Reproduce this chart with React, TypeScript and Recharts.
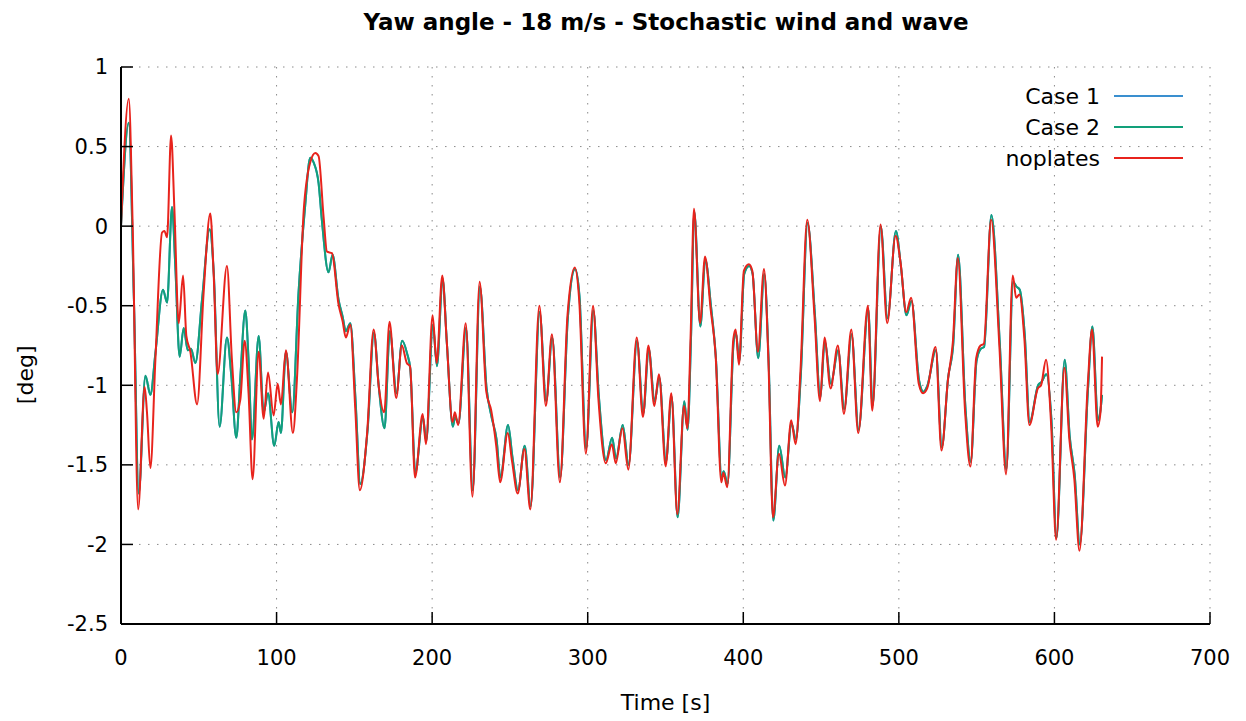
import { LineChart, Line, XAxis, YAxis, CartesianGrid } from 'recharts';

// time [s] and yaw [deg]
const noplatesTime = [
  0, 5.0, 7.5, 11.0, 15.2, 16.7, 18.9, 22.1, 26.4, 27.9, 29.6, 32.2, 34.3, 37.1, 39.9, 42.0, 44.6, 48.9,
  53.1, 57.4, 59.6, 62.1, 68.1, 71.3, 74.1, 76.7, 79.5, 82.0, 84.6, 88.5, 91.7, 94.5, 98.1, 100.7, 102.8,
  106.0, 110.5, 113.1, 117.4, 121.6, 124.9, 127.0, 130.2, 132.4, 135.6, 139.8, 142.5, 144.5, 147.4, 150.6,
  153.5, 158.2, 162.4, 165.6, 169.2, 172.6, 176.9, 180.5, 183.7, 185.8, 189.0, 193.9, 196.0, 200.3, 202.9,
  206.5, 209.3, 213.1, 214.6, 216.7, 221.6, 225.9, 230.5, 234.8, 238.0, 241.2, 243.7, 248.6, 251.4, 255.0,
  259.3, 263.1, 268.9, 273.1, 277.0, 282.1, 287.0, 291.7, 294.5, 298.8, 303.4, 306.9, 311.6, 315.5, 318.0,
  322.3, 326.1, 331.5, 335.5, 339.0, 342.8, 345.8, 350.1, 353.7, 357.6, 361.9, 364.0, 366.2, 368.3, 372.2,
  375.4, 379.0, 382.2, 385.9, 387.2, 389.7, 393.6, 395.1, 397.2, 400.4, 403.6, 405.8, 409.4, 413.3, 416.1,
  419.1, 422.9, 426.8, 430.8, 433.6, 436.8, 441.1, 445.8, 449.3, 452.2, 456.1, 460.8, 464.7, 469.4, 473.9,
  480.1, 482.9, 488.2, 492.5, 497.9, 501.1, 504.7, 507.9, 512.8, 515.6, 518.2, 523.6, 527.4, 531.5, 534.7,
  537.9, 542.6, 546.0, 549.7, 552.5, 554.6, 559.3, 564.7, 568.9, 573.2, 575.4, 577.5, 580.7, 583.9, 589.3,
  591.4, 594.6, 597.9, 601.1, 606.4, 609.6, 612.8, 616.1, 621.4, 624.2, 627.8, 629.6, 630.6,
];
const noplatesDeg = [
  0, 0.8, 0.0, -1.78, -1.01, -1.17, -1.52, -0.84, -0.04, -0.03, -0.07, 0.57, 0.11, -0.61, -0.31, -0.69, -0.79, -1.12,
  -0.42, 0.08, -0.31, -0.93, -0.25, -0.84, -1.17, -1.09, -0.72, -1.05, -1.59, -0.79, -1.21, -0.92, -1.19, -0.99, -1.12,
  -0.78, -1.3, -0.96, 0.09, 0.4, 0.46, 0.44, 0.06, -0.16, -0.17, -0.49, -0.6, -0.7, -0.62, -1.15,
  -1.66, -1.3, -0.65, -1.0, -1.17, -0.6, -1.08, -0.75, -0.86, -0.88, -1.58, -1.18, -1.37, -0.56, -0.86,
  -0.31, -0.71, -1.23, -1.17, -1.25, -0.61, -1.7, -0.35, -1.04, -1.16, -1.38, -1.61, -1.3, -1.48, -1.68,
  -1.4, -1.78, -0.5, -1.13, -0.68, -1.61, -0.56, -0.26, -0.46, -1.43, -0.5, -1.09, -1.49, -1.37, -1.49,
  -1.27, -1.53, -0.7, -1.2, -0.75, -1.13, -0.93, -1.51, -1.05, -1.81, -1.13, -1.27, -0.67, 0.11, -0.61,
  -0.19, -0.52, -0.81, -1.61, -1.55, -1.64, -0.71, -0.65, -0.87, -0.28, -0.24, -0.28, -0.79, -0.27, -0.83,
  -1.83, -1.43, -1.63, -1.22, -1.37, -0.9, 0.04, -0.57, -1.1, -0.7, -1.02, -0.75, -1.18, -0.65, -1.3,
  -0.5, -1.16, 0.01, -0.61, -0.06, -0.23, -0.54, -0.45, -0.99, -1.05, -1.02, -0.76, -1.41, -0.97, -0.73,
  -0.2, -1.17, -1.51, -0.83, -0.75, -0.74, 0.04, -0.77, -1.56, -0.31, -0.45, -0.43, -0.71, -1.25, -1.02,
  -1.0, -0.84, -1.25, -1.97, -0.89, -1.34, -1.59, -2.04, -1.0, -0.65, -1.26, -1.17, -0.82,
];

const case2Time = [
  0, 5.0, 8.2, 11.4, 15.7, 18.9, 22.1, 27.0, 29.6, 32.8, 34.9, 37.7, 40.3, 42.9, 45.0, 47.8, 52.1, 57.0,
  59.6, 63.4, 68.1, 70.9, 74.1, 76.7, 79.9, 82.0, 84.2, 88.5, 91.7, 94.5, 98.5, 101.3, 102.8, 106.0, 110.1,
  114.1, 118.4, 121.6, 123.8, 127.0, 129.1, 133.4, 136.0, 139.8, 142.5, 144.5, 147.4, 150.8, 153.8, 158.5,
  162.6, 165.8, 169.4, 172.8, 177.1, 180.7, 183.9, 186.0, 189.2, 194.1, 196.2, 200.5, 203.1, 206.7, 209.5,
  213.3, 214.8, 216.9, 221.8, 226.1, 230.7, 235.0, 238.2, 241.4, 243.9, 248.8, 251.6, 255.2, 259.5, 263.3,
  269.1, 273.3, 277.2, 282.3, 287.2, 291.9, 294.7, 299.0, 303.6, 307.1, 311.8, 315.7, 318.2, 322.5, 326.3,
  331.7, 335.7, 339.2, 343.0, 346.0, 350.3, 353.9, 357.8, 362.1, 364.2, 366.4, 368.5, 372.4, 375.6, 379.2,
  382.4, 386.1, 387.4, 389.9, 393.8, 395.3, 397.4, 400.6, 403.8, 406.0, 409.6, 413.5, 416.3, 419.3, 423.1,
  427.0, 431.0, 433.8, 437.0, 441.3, 446.0, 449.5, 452.4, 456.3, 461.0, 464.9, 469.6, 474.1, 480.3, 483.1,
  488.4, 492.7, 498.1, 501.3, 504.9, 508.1, 513.0, 515.8, 518.4, 523.8, 527.6, 531.7, 534.9, 538.1, 542.8,
  546.2, 549.9, 552.7, 554.8, 559.5, 564.9, 569.1, 573.4, 575.6, 577.7, 580.9, 584.1, 589.5, 591.6, 594.8,
  598.1, 601.3, 606.6, 609.8, 613.0, 616.3, 621.6, 624.4, 628.0, 629.8, 630.6,
];
const case2Deg = [
  0, 0.65, -0.42, -1.68, -0.94, -1.06, -0.8, -0.4, -0.48, 0.12, -0.25, -0.82, -0.64, -0.78, -0.77, -0.86, -0.46, -0.02,
  -0.29, -1.26, -0.7, -0.94, -1.33, -0.95, -0.53, -0.84, -1.34, -0.69, -1.17, -1.05, -1.38, -1.23, -1.3, -0.79, -1.17,
  -0.42, 0.13, 0.43, 0.4, 0.27, 0.04, -0.29, -0.18, -0.46, -0.57, -0.66, -0.61, -1.1, -1.62, -1.28,
  -0.67, -1.02, -1.27, -0.66, -1.05, -0.72, -0.8, -0.9, -1.55, -1.2, -1.35, -0.62, -0.88, -0.33, -0.74,
  -1.26, -1.2, -1.24, -0.64, -1.66, -0.38, -1.02, -1.2, -1.34, -1.58, -1.25, -1.45, -1.66, -1.38, -1.76,
  -0.54, -1.1, -0.7, -1.58, -0.58, -0.27, -0.44, -1.4, -0.53, -1.06, -1.47, -1.33, -1.46, -1.25, -1.5,
  -0.72, -1.18, -0.77, -1.1, -0.95, -1.48, -1.07, -1.83, -1.1, -1.28, -0.7, 0.09, -0.63, -0.21, -0.5,
  -0.83, -1.58, -1.54, -1.62, -0.73, -0.67, -0.85, -0.3, -0.25, -0.3, -0.83, -0.3, -0.85, -1.85, -1.38,
  -1.58, -1.24, -1.34, -0.93, 0.02, -0.55, -1.08, -0.72, -0.99, -0.78, -1.15, -0.68, -1.28, -0.52, -1.13,
  0.0, -0.58, -0.03, -0.25, -0.56, -0.47, -0.97, -1.04, -1.0, -0.78, -1.39, -0.95, -0.75, -0.18, -1.14,
  -1.48, -0.85, -0.77, -0.76, 0.07, -0.74, -1.53, -0.35, -0.38, -0.4, -0.68, -1.23, -1.0, -0.98, -0.93,
  -1.22, -1.96, -0.84, -1.32, -1.56, -2.0, -1.02, -0.63, -1.22, -1.14, -1.06,
];
// Case 1 lies exactly under Case 2 in the picture
const case1Time = case2Time;
const case1Deg = case2Deg;

const xTicks = [0, 100, 200, 300, 400, 500, 600, 700];
const yTicks = [1, 0.5, 0, -0.5, -1, -1.5, -2, -2.5];

const series = [
  { name: 'Case 1', color: '#3a8fcf', time: case1Time, deg: case1Deg },
  { name: 'Case 2', color: '#12a07a', time: case2Time, deg: case2Deg },
  { name: 'noplates', color: '#e8231c', time: noplatesTime, deg: noplatesDeg },
];

const FONT = '"DejaVu Sans", Verdana, sans-serif';

// plot box edges (px)
const PLOT_LEFT = 121;
const PLOT_RIGHT = 1210;
const PLOT_TOP = 67;
const PLOT_BOTTOM = 624;
const TICK_LEN = 12;

const toRows = (ts: number[], vs: number[]) => ts.map((t, i) => ({ t, v: vs[i] }));

const BottomTick = ({ x, y, payload }: any) => (
  <g>
    <line x1={x} x2={x} y1={PLOT_BOTTOM} y2={PLOT_BOTTOM - TICK_LEN} stroke="#000" strokeWidth={1.5} />
    <text x={x} y={y} dy="0.71em" textAnchor="middle" fontSize={21} fontFamily={FONT} fill="#000">
      {payload.value}
    </text>
  </g>
);

const LeftTick = ({ x, y, payload }: any) => (
  <g>
    <line x1={PLOT_LEFT} x2={PLOT_LEFT + TICK_LEN} y1={y} y2={y} stroke="#000" strokeWidth={1.5} />
    <text x={x} y={y} dy="0.355em" textAnchor="end" fontSize={21} fontFamily={FONT} fill="#000">
      {String(payload.value)}
    </text>
  </g>
);

const TopTick = ({ x }: any) => (
  <line x1={x} x2={x} y1={PLOT_TOP} y2={PLOT_TOP + TICK_LEN} stroke="#000" strokeWidth={1.5} />
);

const RightTick = ({ y }: any) => (
  <line x1={PLOT_RIGHT - TICK_LEN} x2={PLOT_RIGHT} y1={y} y2={y} stroke="#000" strokeWidth={1.5} />
);

export default function App() {
  return (
    <div style={{ position: 'absolute', left: 0, top: 0, width: 1246, height: 721, background: '#fff' }}>
      <LineChart width={1246} height={721} margin={{ top: 67, right: 36, bottom: 47, left: 61 }}>
        <CartesianGrid stroke="#8a8a8a" strokeDasharray="1.5 7.5" />
        <XAxis
          type="number"
          dataKey="t"
          domain={[0, 700]}
          ticks={xTicks}
          allowDataOverflow
          height={50}
          tickSize={0}
          tickMargin={26}
          tick={<BottomTick />}
          axisLine={{ stroke: '#000', strokeWidth: 2 }}
          label={{ value: 'Time [s]', position: 'bottom', offset: 20, fontSize: 22, fontFamily: FONT, fill: '#000' }}
        />
        <XAxis
          xAxisId="top"
          orientation="top"
          type="number"
          domain={[0, 700]}
          ticks={xTicks}
          allowDataOverflow
          height={0}
          tickSize={0}
          tickMargin={0}
          tick={<TopTick />}
          axisLine={{ stroke: '#000', strokeWidth: 2 }}
        />
        <YAxis
          type="number"
          domain={[-2.5, 1]}
          ticks={yTicks}
          allowDataOverflow
          width={60}
          tickSize={0}
          tickMargin={13}
          tick={<LeftTick />}
          axisLine={{ stroke: '#000', strokeWidth: 2 }}
          label={{ value: '[deg]', angle: -90, position: 'left', offset: 36, fontSize: 22, fontFamily: FONT, fill: '#000' }}
        />
        <YAxis
          yAxisId="right"
          orientation="right"
          type="number"
          domain={[-2.5, 1]}
          ticks={yTicks}
          allowDataOverflow
          width={0}
          tickSize={0}
          tickMargin={0}
          tick={<RightTick />}
          axisLine={{ stroke: '#000', strokeWidth: 2 }}
        />
        {series.map((s) => (
          <Line
            key={s.name}
            name={s.name}
            data={toRows(s.time, s.deg)}
            dataKey="v"
            type="monotone"
            stroke={s.color}
            strokeWidth={2}
            dot={false}
            isAnimationActive={false}
          />
        ))}
        <text x={666} y={30} textAnchor="middle" fontSize={23} fontWeight="bold" fontFamily={FONT} fill="#000">
          Yaw angle - 18 m/s - Stochastic wind and wave
        </text>
        <g>
          {series.map((s, i) => (
            <g key={s.name}>
              <text x={1100} y={96 + i * 31} dy="0.35em" textAnchor="end" fontSize={22} fontFamily={FONT} fill="#000">
                {s.name}
              </text>
              <line x1={1114} x2={1183} y1={96 + i * 31} y2={96 + i * 31} stroke={s.color} strokeWidth={2} />
            </g>
          ))}
        </g>
      </LineChart>
    </div>
  );
}
